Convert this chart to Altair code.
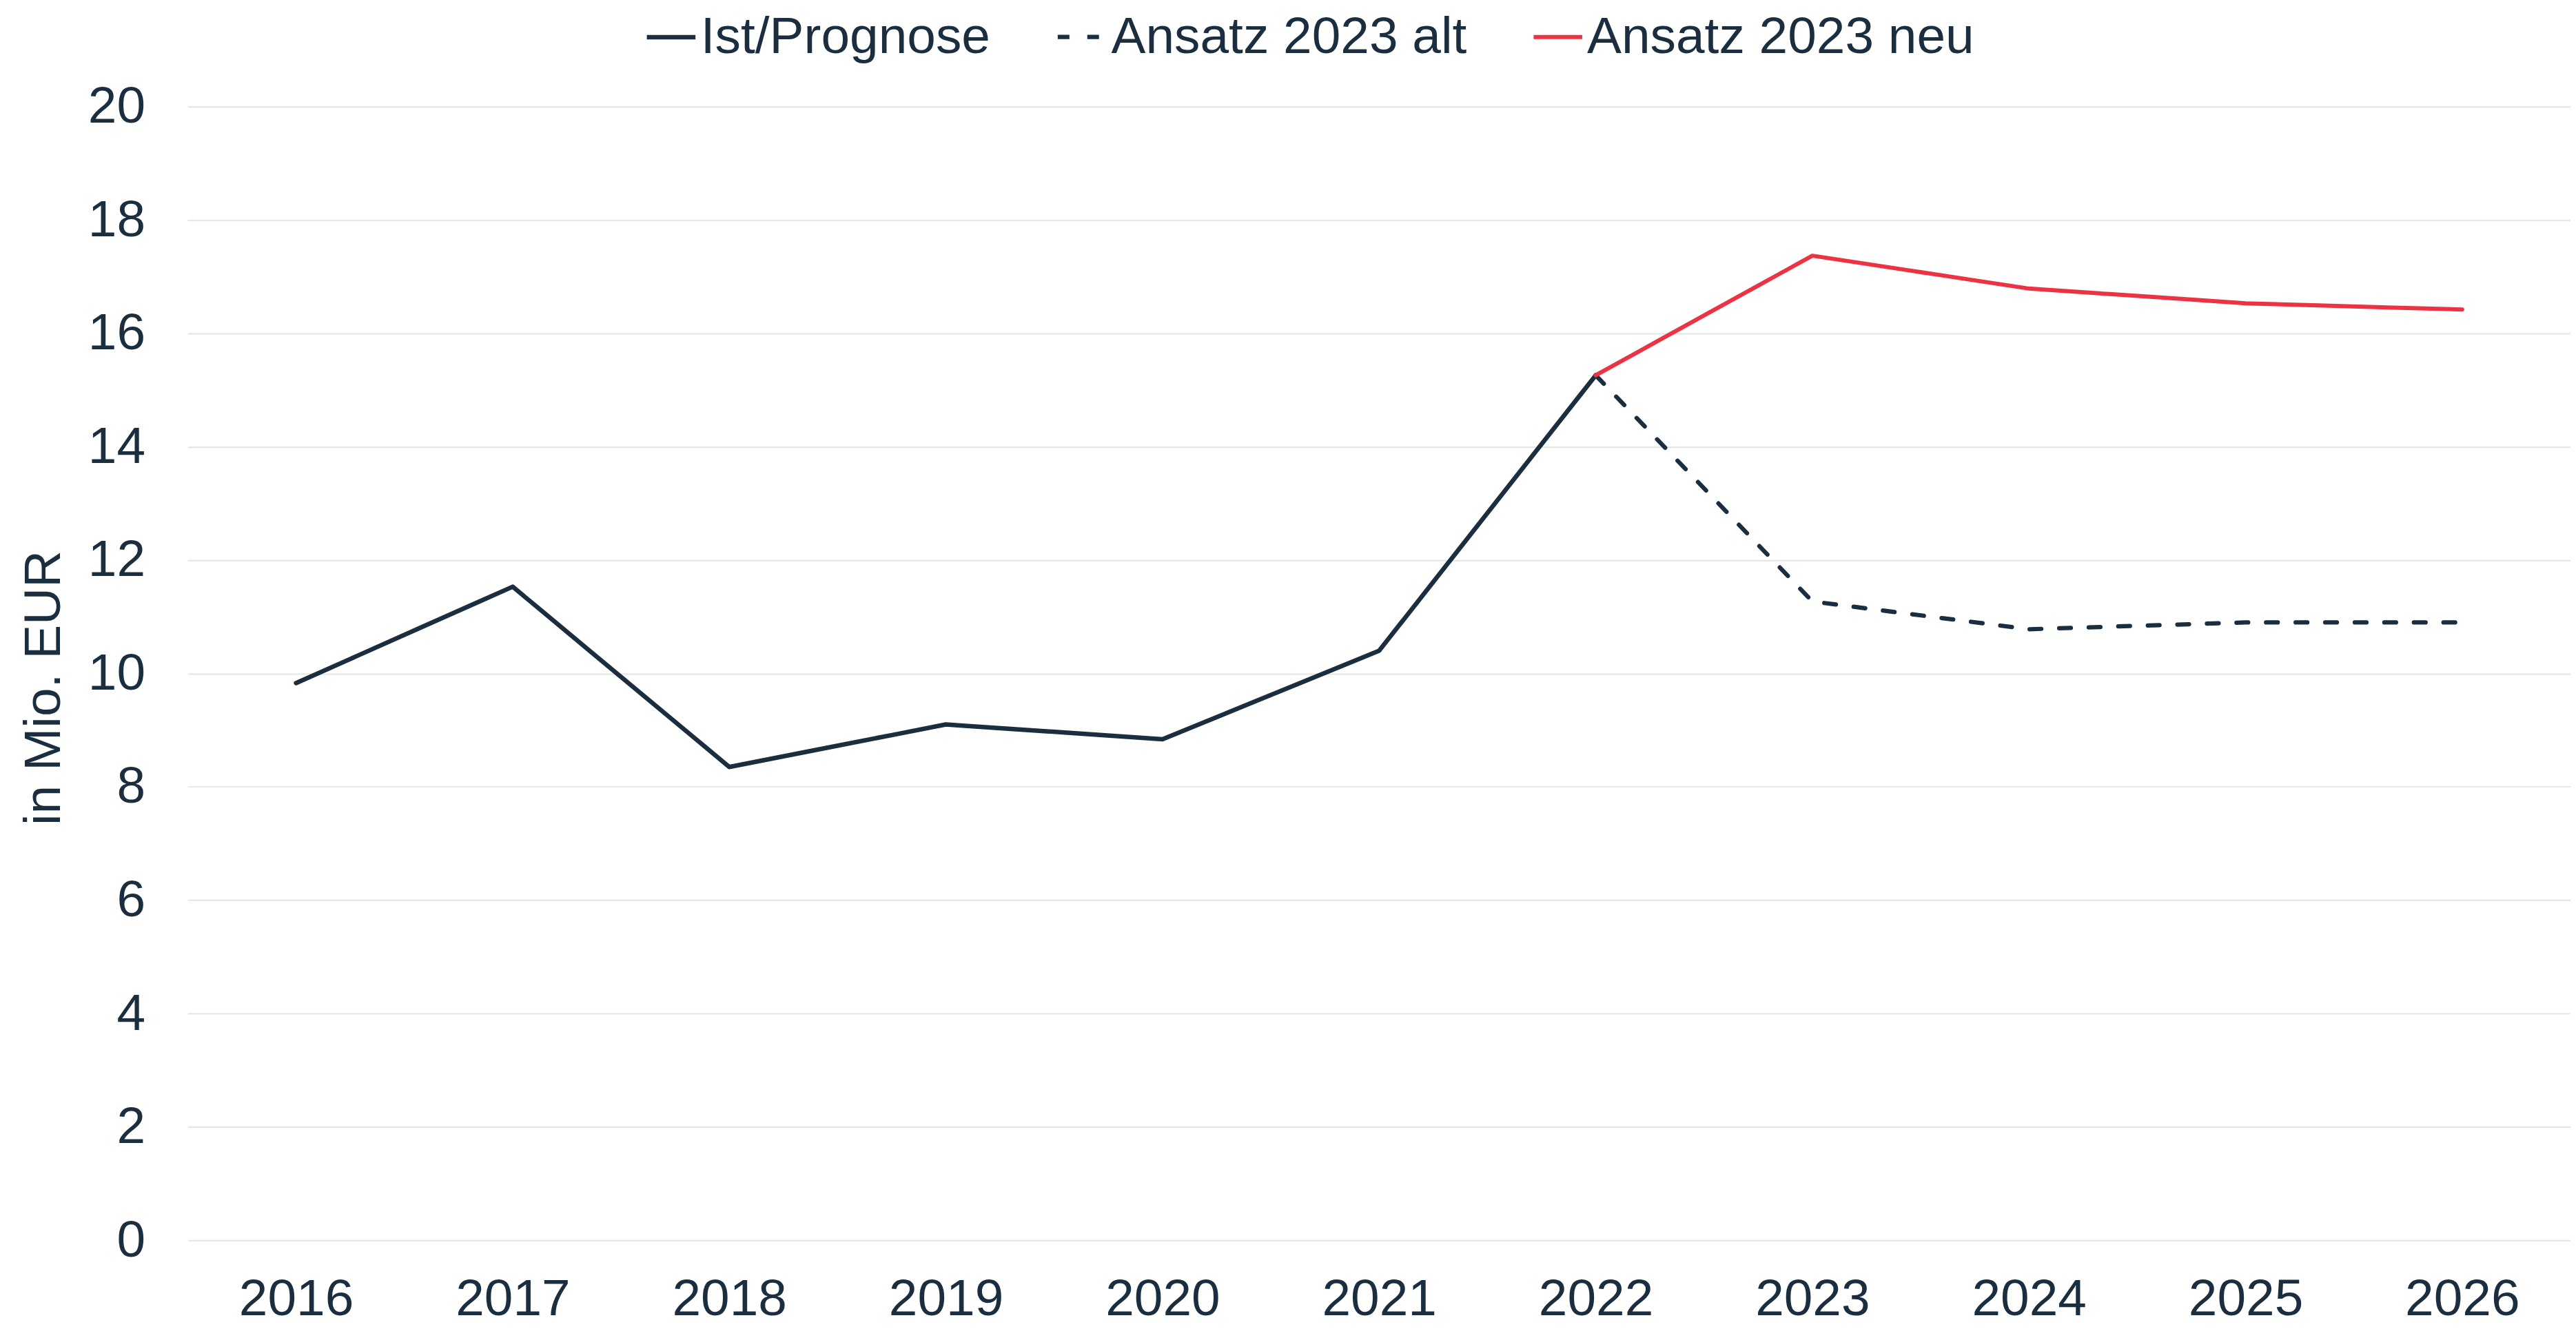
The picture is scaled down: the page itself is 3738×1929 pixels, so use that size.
import altair as alt
import pandas as pd

years_ist = ["2016", "2017", "2018", "2019", "2020", "2021", "2022"]
values_ist = [9.83, 11.53, 8.35, 9.1, 8.84, 10.4, 15.26]

years_plan = ["2022", "2023", "2024", "2025", "2026"]
values_alt = [15.26, 11.27, 10.78, 10.9, 10.9]
values_neu = [15.26, 17.37, 16.79, 16.53, 16.42]

all_years = ["2016", "2017", "2018", "2019", "2020", "2021", "2022", "2023", "2024", "2025", "2026"]
series_names = ["Ist/Prognose", "Ansatz 2023 alt", "Ansatz 2023 neu"]
y_ticks = [0, 2, 4, 6, 8, 10, 12, 14, 16, 18, 20]

rows = []
for y, v in zip(years_ist, values_ist):
    rows.append({"Jahr": y, "Wert": v, "Reihe": series_names[0]})
for y, v in zip(years_plan, values_alt):
    rows.append({"Jahr": y, "Wert": v, "Reihe": series_names[1]})
for y, v in zip(years_plan, values_neu):
    rows.append({"Jahr": y, "Wert": v, "Reihe": series_names[2]})
df = pd.DataFrame(rows)

TEXT = "#1b2e40"
RED = "#ec3344"
FONT = "Liberation Sans"

legend_opts = dict(title=None, orient="none", direction="horizontal",
                   legendX=664, legendY=-140,
                   symbolType="stroke", symbolSize=5000, symbolStrokeWidth=7,
                   labelFontSize=75, labelFont=FONT, labelColor=TEXT, labelLimit=0,
                   labelOffset=4, columnPadding=84)

base = alt.Chart(df).encode(
    x=alt.X("Jahr:N", sort=all_years,
            scale=alt.Scale(type="point", domain=all_years, padding=0.5),
            axis=alt.Axis(title=None, labelAngle=0, ticks=False, domain=False, grid=False,
                          labelPadding=50, labelFontSize=75, labelColor=TEXT, labelFont=FONT)),
    y=alt.Y("Wert:Q", scale=alt.Scale(domain=[0, 20], nice=False, zero=True),
            axis=alt.Axis(title="in Mio. EUR", values=y_ticks, ticks=False, domain=False,
                          grid=True, gridColor="#e5e5e5", gridWidth=2,
                          labelPadding=62, labelFontSize=75, labelColor=TEXT, labelFont=FONT,
                          titleFontSize=75, titleFont=FONT, titleColor=TEXT,
                          titleFontWeight="normal", titleX=-170, titleY=845)),
    color=alt.Color("Reihe:N", scale=alt.Scale(domain=series_names, range=[TEXT, TEXT, RED]),
                    legend=alt.Legend(**legend_opts)),
    strokeDash=alt.StrokeDash("Reihe:N", scale=alt.Scale(domain=series_names,
                                                          range=[[100, 0], [17, 26], [100, 0]]),
                              legend=alt.Legend(**legend_opts)),
    strokeWidth=alt.StrokeWidth("Reihe:N", scale=alt.Scale(domain=series_names,
                                                            range=[6.5, 6, 8.5]),
                                legend=None),
    detail="Reihe:N",
)

chart = base.mark_line(strokeCap="round", strokeJoin="round").properties(
    width=3465, height=1649,
    autosize=alt.AutoSizeParams(type="none"),
    padding={"left": 265, "top": 145, "right": 0, "bottom": 127},
).configure(background="white").configure_view(stroke=None)

chart.save("out.html", embed_options={"renderer": "svg", "actions": False})
